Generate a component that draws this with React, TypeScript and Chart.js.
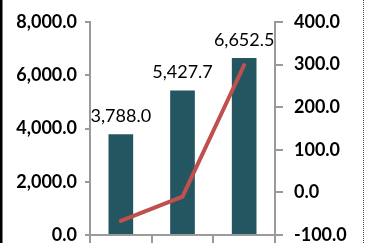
import { useEffect, useRef } from "react";
import { Chart, registerables } from "chart.js";

Chart.register(...registerables);

const categories = ["Year 1", "Year 2", "Year 3"];
const barValues = [3788.0, 5427.7, 6652.5];
const lineValues = [-67, -10, 299];
const leftTicks = [0, 2000, 4000, 6000, 8000];
const rightTicks = [-100, 0, 100, 200, 300, 400];

const fmt = (v: number) =>
  v.toLocaleString("en-US", { minimumFractionDigits: 1, maximumFractionDigits: 1 });

const AXIS_GRAY = "#9a9a9a";
const FONT = "Lato";

const barLabelPlugin = {
  id: "barLabels",
  afterDatasetsDraw(chart: any) {
    const ctx = chart.ctx;
    const meta = chart.getDatasetMeta(0);
    ctx.save();
    ctx.font = `18px ${FONT}`;
    ctx.fillStyle = "#000";
    ctx.textAlign = "center";
    ctx.textBaseline = "bottom";
    meta.data.forEach((el: any, i: number) => {
      ctx.fillText(fmt(barValues[i]), el.x, el.y - 9);
    });
    ctx.restore();
  },
};

const framePlugin = {
  id: "frame",
  afterDraw(chart: any) {
    const ctx = chart.ctx;
    const w = chart.width;
    const h = chart.height;
    ctx.save();
    ctx.fillStyle = "#000";
    ctx.fillRect(0, 0, 2.5, h);
    ctx.strokeStyle = "#444";
    ctx.lineWidth = 1;
    ctx.setLineDash([1, 1]);
    ctx.beginPath();
    ctx.moveTo(w - 1.5, 0);
    ctx.lineTo(w - 1.5, h);
    ctx.stroke();
    ctx.restore();
  },
};

const noPad = (s: any) => {
  s.paddingTop = 0;
  s.paddingBottom = 0;
  s.paddingLeft = 0;
  s.paddingRight = 0;
};

export default function App() {
  const ref = useRef<HTMLCanvasElement | null>(null);

  useEffect(() => {
    if (!ref.current) return;
    const chart = new Chart(ref.current, {
      type: "bar",
      data: {
        labels: categories,
        datasets: [
          {
            type: "bar",
            data: barValues,
            backgroundColor: "#245661",
            barPercentage: 0.4,
            categoryPercentage: 1,
            yAxisID: "y",
            order: 2,
          },
          {
            type: "line",
            data: lineValues,
            borderColor: "#c0504d",
            borderWidth: 4,
            borderCapStyle: "round",
            pointRadius: 0,
            tension: 0,
            yAxisID: "y1",
            order: 1,
          } as any,
        ],
      },
      options: {
        responsive: false,
        animation: false,
        layout: { padding: { top: 22, left: 0, right: 0, bottom: 0 } },
        plugins: {
          legend: { display: false },
          tooltip: { enabled: false },
        },
        scales: {
          x: {
            offset: true,
            grid: {
              display: true,
              drawOnChartArea: false,
              drawTicks: true,
              tickLength: 8,
              color: AXIS_GRAY,
              lineWidth: 2,
              offset: true,
            },
            border: { display: true, color: AXIS_GRAY, width: 2 },
            ticks: { display: false },
            afterFit: (s: any) => {
              s.height = 8;
              noPad(s);
            },
          },
          y: {
            position: "left",
            min: 0,
            max: 8000,
            afterBuildTicks: (s: any) => {
              s.ticks = leftTicks.map((v) => ({ value: v }));
            },
            grid: {
              drawOnChartArea: false,
              drawTicks: true,
              tickLength: 5,
              color: AXIS_GRAY,
              lineWidth: 2,
            },
            border: { display: true, color: AXIS_GRAY, width: 2 },
            ticks: {
              padding: 8,
              color: "#000",
              font: { family: FONT, size: 18, weight: "bold" },
              callback: (v: any) => fmt(Number(v)),
            },
            afterFit: (s: any) => {
              s.width = 90;
              noPad(s);
            },
          },
          y1: {
            position: "right",
            min: -100,
            max: 400,
            afterBuildTicks: (s: any) => {
              s.ticks = rightTicks.map((v) => ({ value: v }));
            },
            grid: {
              drawOnChartArea: false,
              drawTicks: true,
              tickLength: 8,
              color: AXIS_GRAY,
              lineWidth: 2,
            },
            border: { display: true, color: AXIS_GRAY, width: 2 },
            ticks: {
              padding: 11,
              color: "#000",
              font: { family: FONT, size: 18, weight: "bold" },
              callback: (v: any) => fmt(Number(v)),
            },
            afterFit: (s: any) => {
              s.width = 90;
              noPad(s);
            },
          },
        },
      },
      plugins: [barLabelPlugin, framePlugin],
    });
    return () => chart.destroy();
  }, []);

  return (
    <div style={{ position: "absolute", left: 0, top: 0, width: 365, height: 243, background: "#fff" }}>
      <canvas ref={ref} width={365} height={243} style={{ display: "block" }} />
    </div>
  );
}
